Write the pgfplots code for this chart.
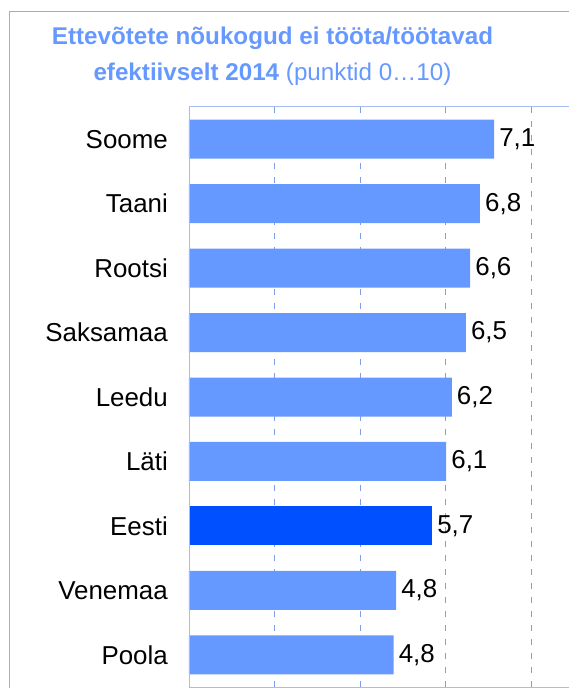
\documentclass[border=0pt]{standalone}
\usepackage{fontspec}
\setmainfont{Liberation Sans}
\usepackage{pgfplots}
\pgfplotsset{compat=1.18}
\definecolor{barlight}{HTML}{6699FF}
\definecolor{bardark}{HTML}{0050FF}
\definecolor{titleblue}{HTML}{6699FF}
\definecolor{gridblue}{HTML}{7C9FEA}
\definecolor{framebl}{HTML}{8AAEFF}
\definecolor{axisbl}{HTML}{A4BCF2}

\begin{document}
\begin{tikzpicture}
\begin{axis}[
  at={(0bp,0bp)}, anchor=south west,
  scale only axis, width=380bp, height=580bp,
  xbar, bar width=39bp, bar shift=0pt,
  xmin=0, xmax=8.88,
  ymin=-0.5, ymax=8.5, y dir=reverse,
  ytick={0,...,8},
  yticklabels={Soome,Taani,Rootsi,Saksamaa,Leedu,Läti,Eesti,Venemaa,Poola},
  xtick={2,4,6,8}, xticklabels={},
  major tick length=0pt,
  xmajorgrids,
  grid style={gridblue, line width=0.8bp, dash pattern=on 6bp off 8bp},
  axis line style={draw=none},
  tick label style={font=\fontsize{26}{31}\selectfont},
  yticklabel style={inner sep=0pt},
  yticklabel shift=21bp,
  nodes near coords,
  point meta=explicit,
  nodes near coords style={font=\fontsize{26}{31}\selectfont, black, anchor=west, inner sep=5bp},
  /pgf/number format/.cd, use comma, fixed, fixed zerofill, precision=1, assume math mode=true,
]
% bar length as drawn, label as printed
\addplot[fill=barlight, draw=none] coordinates {
  (7.13,0) [7.1]
  (6.80,1) [6.8]
  (6.57,2) [6.6]
  (6.47,3) [6.5]
  (6.14,4) [6.2]
  (6.01,5) [6.1]
  (4.84,7) [4.8]
  (4.78,8) [4.8]
};
\addplot[fill=bardark, draw=none] coordinates {(5.68,6) [5.7]};
\end{axis}
% axis frame (open on the right, cropped)
\draw[axisbl, line width=1bp] (420bp,580bp) -- (0bp,580bp) -- (0bp,0bp) -- (420bp,0bp);
% outer chart frame
\draw[framebl, line width=1bp] (-179bp,-20bp) -- (-179bp,675bp) -- (420bp,675bp);
% title
\node[anchor=base, titleblue, font=\fontsize{24.3}{29}\selectfont\bfseries]
  at (83.5bp,642bp) {Ettevõtete nõukogud ei tööta/töötavad};
\node[anchor=base, titleblue, font=\fontsize{24.3}{29}\selectfont\bfseries]
  at (83.5bp,606bp) {efektiivselt 2014 {\mdseries (punktid 0…10)}};
\pgfresetboundingbox
\useasboundingbox (-189bp,-1bp) rectangle (380bp,687bp);
\end{tikzpicture}
\end{document}
